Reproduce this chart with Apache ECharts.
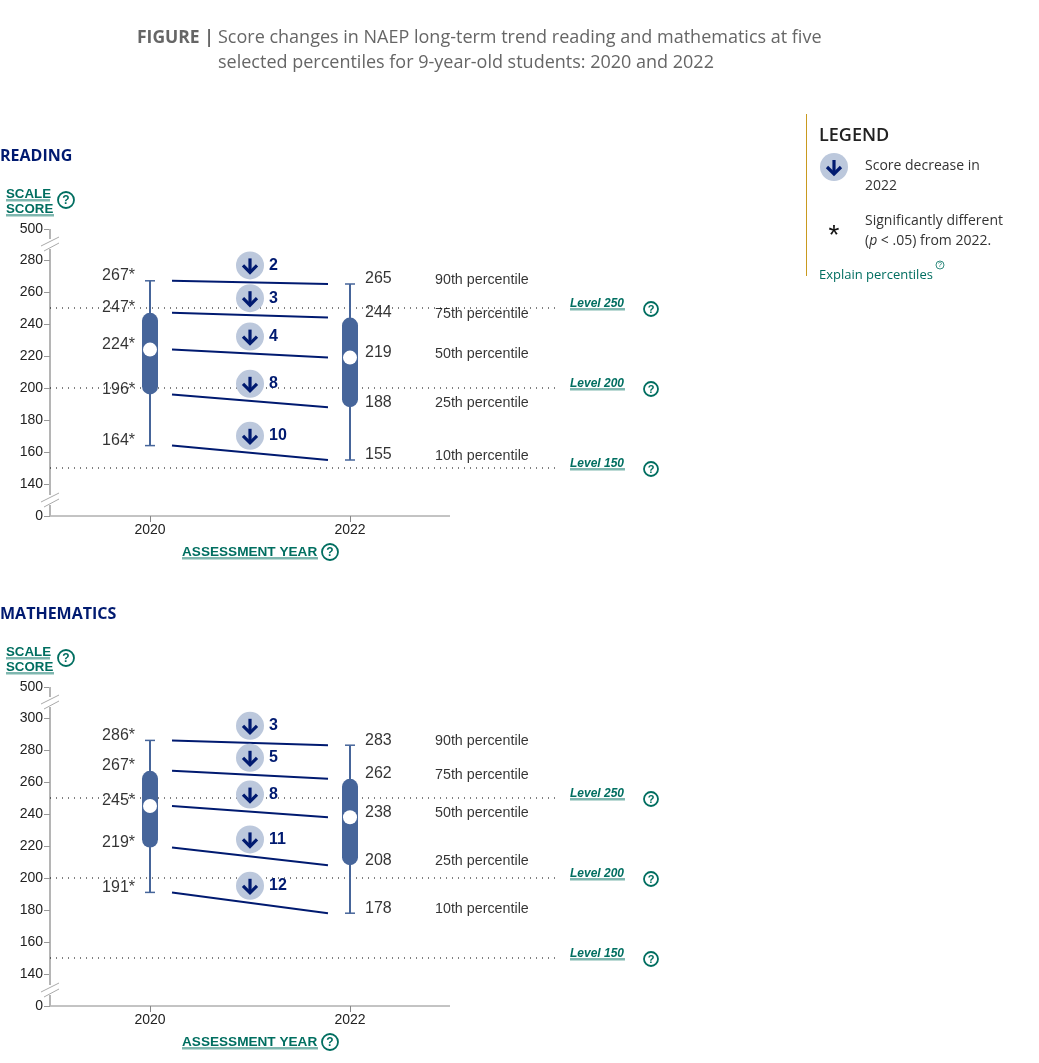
<!DOCTYPE html>
<html>
<head>
<meta charset="utf-8">
<style>html,body{margin:0;padding:0;background:#fff}#chart{width:1039px;height:1063px}</style>
<script src="https://cdn.jsdelivr.net/npm/echarts@6/dist/echarts.min.js"></script>
</head>
<body>
<div id="chart"></div>
<script>
const years = [2020, 2022];
const percentiles = ['90th percentile', '75th percentile', '50th percentile', '25th percentile', '10th percentile'];
const levels = [250, 200, 150];

const reading2020 = [267, 247, 224, 196, 164];
const reading2022 = [265, 244, 219, 188, 155];
const readingDrop = [2, 3, 4, 8, 10];
const readingTicks = [0, 140, 160, 180, 200, 220, 240, 260, 280, 500];

const math2020 = [286, 267, 245, 219, 191];
const math2022 = [283, 262, 238, 208, 178];
const mathDrop = [3, 5, 8, 11, 12];
const mathTicks = [0, 140, 160, 180, 200, 220, 240, 260, 280, 300, 500];

const TEAL = '#006e60';
const PALE = '#7fb8ae';
const NAVY = '#001a70';
const BLUE = '#46659a';
const OPEN = '"Open Sans", sans-serif';
const ARIAL = '"Liberation Sans"';

function helpIcon(cx, cy, r) {
  r = r || 7;
  return {
    type: 'group',
    children: [
      { type: 'circle', shape: { cx, cy, r }, style: { fill: '#fff', stroke: TEAL, lineWidth: r > 5 ? 1.8 : 0.8 } },
      { type: 'text', style: { x: cx, y: cy + 0.5, text: '?', align: 'center', verticalAlign: 'middle', fill: TEAL, font: (r > 5 ? 'bold ' + (r + 4) + 'px ' : '7px ') + ARIAL } }
    ]
  };
}

function arrowIcon(cx, cy) {
  return {
    type: 'group',
    children: [
      { type: 'circle', shape: { cx, cy, r: 14 }, style: { fill: '#bcc8dc' } },
      { type: 'line', shape: { x1: cx, y1: cy - 7, x2: cx, y2: cy + 6 }, style: { stroke: NAVY, lineWidth: 3.2 } },
      { type: 'polyline', shape: { points: [[cx - 7, cy], [cx, cy + 7], [cx + 7, cy]] }, style: { fill: null, stroke: NAVY, lineWidth: 3.2 } }
    ]
  };
}

function linkText(x, y, text, width, font, under) {
  return {
    type: 'group',
    children: [
      { type: 'text', style: { x, y: y + 1, text, fill: TEAL, font, verticalAlign: 'middle' } },
      { type: 'line', shape: { x1: x, y1: y + under, x2: x + width, y2: y + under }, style: { stroke: TEAL, lineWidth: 1 } },
      { type: 'line', shape: { x1: x, y1: y + under + 1, x2: x + width, y2: y + under + 1 }, style: { stroke: PALE, lineWidth: 1 } }
    ]
  };
}

function openText(x, y, text, size, color, weight) {
  return { type: 'text', style: { x, y, text, fill: color, font: (weight || 'normal') + ' ' + size + 'px ' + OPEN, verticalAlign: 'middle' } };
}

function panelSeries(idx, v2020, v2022, drops, breakTop) {
  const axisOpt = { xAxisIndex: idx, yAxisIndex: idx, animation: false, silent: true };
  const list = [];

  // the bottom axis line stops at 2023, the level rules run on past it
  list.push(Object.assign({
    type: 'line', clip: false, showSymbol: false, z: 1,
    data: [[2019, 0], [2023, 0]],
    lineStyle: { color: '#888', width: 1 }
  }, axisOpt));

  levels.forEach(l => {
    list.push(Object.assign({
      type: 'line', clip: false, showSymbol: false, z: 1,
      data: [[2019, l], [2024.05, l]],
      lineStyle: { color: '#000', width: 1, type: [1, 5] }
    }, axisOpt));
  });

  list.push(Object.assign({
    type: 'custom', z: 1,
    data: levels,
    encode: { x: -1, y: 0 },
    renderItem: (params, api) => {
      const y = api.coord([2019, api.value(0)])[1];
      return {
        type: 'group',
        children: [
          linkText(570, y - 5, 'Level ' + api.value(0), 55, 'italic bold 12px ' + ARIAL, 6),
          helpIcon(651, y + 1)
        ]
      };
    }
  }, axisOpt));

  v2020.forEach((v, i) => {
    list.push(Object.assign({
      type: 'line', clip: false, showSymbol: false, z: 3,
      data: [[2020.22, v], [2021.78, v2022[i]]],
      lineStyle: { color: NAVY, width: 2 }
    }, axisOpt));
  });

  // whisker, 25-75 bar and median dot
  list.push(Object.assign({
    type: 'custom', z: 2,
    data: [
      [years[0], v2020[4], v2020[3], v2020[2], v2020[1], v2020[0]],
      [years[1], v2022[4], v2022[3], v2022[2], v2022[1], v2022[0]]
    ],
    encode: { x: 0, y: [1, 2, 3, 4, 5] },
    renderItem: (params, api) => {
      const x = api.coord([api.value(0), 200])[0];
      const py = k => api.coord([api.value(0), api.value(k)])[1];
      const st = { stroke: BLUE, lineWidth: 2 };
      const cap = { stroke: BLUE, lineWidth: 1.5 };
      return {
        type: 'group',
        children: [
          { type: 'line', shape: { x1: x, y1: py(1), x2: x, y2: py(5) }, style: st },
          { type: 'line', shape: { x1: x - 5, y1: py(1), x2: x + 5, y2: py(1) }, style: cap },
          { type: 'line', shape: { x1: x - 5, y1: py(5), x2: x + 5, y2: py(5) }, style: cap },
          { type: 'rect', shape: { x: x - 8, y: py(4), width: 16, height: py(2) - py(4), r: 8 }, style: { fill: BLUE } },
          { type: 'circle', shape: { cx: x, cy: py(3), r: 7 }, style: { fill: '#fff' } }
        ]
      };
    }
  }, axisOpt));

  // arrow badges sit above the middle of each slope
  list.push(Object.assign({
    type: 'custom', z: 4,
    data: drops.map((d, i) => [2021, (v2020[i] + v2022[i]) / 2, d]),
    encode: { x: 0, y: 1 },
    renderItem: (params, api) => {
      const p = api.coord([api.value(0), api.value(1)]);
      return {
        type: 'group',
        children: [
          arrowIcon(p[0], p[1] - 17),
          { type: 'text', style: { x: p[0] + 19, y: p[1] - 17, text: String(api.value(2)), fill: NAVY, font: 'bold 16px ' + ARIAL, verticalAlign: 'middle' } }
        ]
      };
    }
  }, axisOpt));

  const textSeries = (x, vals, fmt, pos, size, dy) => Object.assign({
    type: 'scatter', clip: false, symbolSize: 0, z: 5,
    data: vals.map((v, i) => ({ value: [x, v], name: fmt(v, i) })),
    label: {
      show: true, position: pos, distance: 0, offset: [0, dy],
      formatter: p => p.name,
      fontFamily: ARIAL, fontSize: size, color: '#000'
    }
  }, axisOpt);
  list.push(textSeries(2019.85, v2020, v => v + '*', 'left', 16, -5));
  list.push(textSeries(2022.15, v2022, v => String(v), 'right', 16, -5));
  list.push(textSeries(2022.85, v2022, (v, i) => percentiles[i], 'right', 14.3, -4));

  // axis-break slashes and the stubs of axis line either side of them
  list.push(Object.assign({
    type: 'custom', z: 6,
    data: [[0, 140], [500, breakTop]],
    encode: { x: -1, y: [0, 1] },
    renderItem: (params, api) => {
      const p = api.coord([2019, api.value(0)]);
      const q = api.coord([2019, api.value(1)]);
      const my = api.value(0) === 0 ? p[1] - 15 : p[1] + 16;
      const slash = { stroke: '#aaa', lineWidth: 1 };
      const stub = { stroke: '#b5b5b5', lineWidth: 2 };
      return {
        type: 'group',
        children: [
          { type: 'line', shape: { x1: p[0], y1: p[1], x2: p[0], y2: my + (api.value(0) === 0 ? 4 : -6) }, style: stub },
          { type: 'line', shape: { x1: p[0], y1: q[1], x2: p[0], y2: my + (api.value(0) === 0 ? -6 : 4) }, style: stub },
          { type: 'line', shape: { x1: p[0] - 9, y1: my + 1, x2: p[0] + 9, y2: my - 8 }, style: slash },
          { type: 'line', shape: { x1: p[0] - 6, y1: my + 6, x2: p[0] + 9, y2: my - 2 }, style: slash }
        ]
      };
    }
  }, axisOpt));

  return list;
}

function yAxisFor(idx, ticks, breakTop) {
  return {
    type: 'value', gridIndex: idx, min: 0, max: 500,
    // gaps are in axis units: 1.6px per score point
    breaks: [
      { start: 0, end: 140, gap: 20 },
      { start: breakTop, end: 500, gap: 19.375 }
    ],
    breakArea: { show: false },
    axisLine: { show: true, lineStyle: { color: '#b5b5b5', width: 2 } },
    axisTick: { show: true, length: 6, customValues: ticks, lineStyle: { color: '#999', width: 1 } },
    axisLabel: { customValues: ticks, fontFamily: ARIAL, fontSize: 14, color: '#222', margin: 7, padding: [2, 0, 0, 0] },
    splitLine: { show: false }
  };
}

function xAxisFor(idx) {
  return {
    type: 'value', gridIndex: idx, min: 2019, max: 2024.05,
    axisLine: { show: false },
    axisTick: { show: true, length: 6, customValues: years, lineStyle: { color: '#888' } },
    axisLabel: { customValues: years, formatter: v => String(v), fontFamily: ARIAL, fontSize: 14, color: '#222', margin: 7 },
    splitLine: { show: false }
  };
}

function panelTitles(name, dy, axisY) {
  return [
    openText(0, 156 + dy, name, 16, NAVY, 'bold'),
    linkText(6, 193 + dy, 'SCALE', 44, 'bold 13.3px ' + ARIAL, 7),
    linkText(6, 208 + dy, 'SCORE', 48, 'bold 13.3px ' + ARIAL, 7),
    helpIcon(66, 200 + dy, 8),
    linkText(182, axisY, 'ASSESSMENT YEAR', 136, 'bold 13.6px ' + ARIAL, 7),
    helpIcon(330, axisY + 1, 8)
  ];
}

const chart = echarts.init(document.getElementById('chart'), null, { renderer: 'canvas' });
chart.setOption({
  animation: false,
  backgroundColor: '#fff',
  grid: [
    { left: 50, top: 229, width: 505, height: 287 },
    { left: 50, top: 687, width: 505, height: 319 }
  ],
  xAxis: [xAxisFor(0), xAxisFor(1)],
  yAxis: [yAxisFor(0, readingTicks, 280), yAxisFor(1, mathTicks, 300)],
  series: [
    ...panelSeries(0, reading2020, reading2022, readingDrop, 280),
    ...panelSeries(1, math2020, math2022, mathDrop, 300)
  ],
  graphic: {
    elements: [
      openText(137, 38, 'FIGURE |', 17.5, '#666', 'bold'),
      openText(218, 38, 'Score changes in NAEP long-term trend reading and mathematics at five', 18, '#666'),
      openText(218, 63, 'selected percentiles for 9-year-old students: 2020 and 2022', 18, '#666'),
      ...panelTitles('READING', 0, 551),
      ...panelTitles('MATHEMATICS', 458, 1041),
      { type: 'line', shape: { x1: 806.5, y1: 114, x2: 806.5, y2: 276 }, style: { stroke: '#c99a1f', lineWidth: 1 } },
      openText(819, 136, 'LEGEND', 18, '#222', '600'),
      arrowIcon(834, 167),
      openText(865, 166, 'Score decrease in', 14, '#333'),
      openText(865, 186, '2022', 14, '#333'),
      { type: 'text', style: { x: 834, y: 236, text: '*', align: 'center', verticalAlign: 'middle', fill: '#111', font: '28px ' + ARIAL } },
      openText(865, 221, 'Significantly different', 14, '#333'),
      {
        type: 'text',
        style: {
          x: 865, y: 241, verticalAlign: 'middle',
          text: '({i|p} < .05) from 2022.',
          fill: '#333', font: '14px ' + OPEN,
          rich: { i: { fontStyle: 'italic', fontFamily: OPEN, fontSize: 14, fill: '#333' } }
        }
      },
      openText(819, 275, 'Explain percentiles', 13, TEAL),
      helpIcon(940, 265, 4)
    ]
  }
});
</script>
</body>
</html>
